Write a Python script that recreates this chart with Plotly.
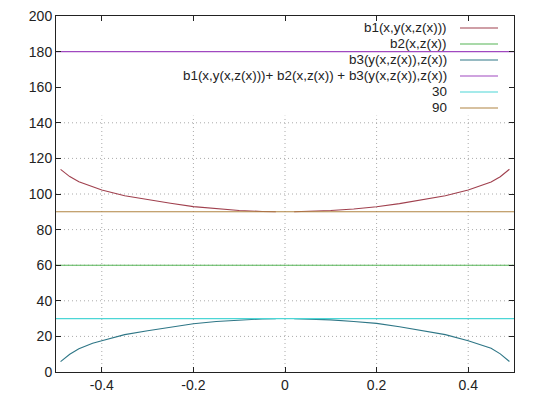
import plotly.graph_objects as go

# values
x_curve = [-0.49, -0.47, -0.45, -0.42, -0.4, -0.35, -0.3, -0.25, -0.2, -0.15, -0.1, -0.05, -0.02, 0,
           0.02, 0.05, 0.1, 0.15, 0.2, 0.25, 0.3, 0.35, 0.4, 0.42, 0.45, 0.47, 0.49]
b1 = [113.8, 109.8, 106.9, 103.9, 102.2, 99.0, 96.8, 94.8, 92.9, 91.6, 90.7, 90.2, 90.0, None,
      90.0, 90.2, 90.7, 91.6, 92.8, 94.6, 96.6, 99.0, 102.2, 103.9, 106.8, 109.7, 113.9]
b3 = [5.8, 10.0, 13.1, 16.1, 17.6, 21.0, 23.2, 25.3, 27.1, 28.4, 29.3, 29.8, 30.0, None,
      30.0, 29.8, 29.3, 28.4, 27.3, 25.4, 23.4, 21.0, 17.6, 16.0, 13.3, 10.2, 5.9]
x_line = [-0.5, 0.5]
b2 = [60, 60]
total = [180, 180]
c30 = [30, 30]
c90 = [90, 90]

names = ["b1(x,y(x,z(x)))", "b2(x,z(x))", "b3(y(x,z(x)),z(x))",
         "b1(x,y(x,z(x)))+ b2(x,z(x)) + b3(y(x,z(x)),z(x))", "30", "90"]
colors = ["#a0404e", "#55b455", "#2e7686", "#a048c0", "#4cd6d6", "#b08442"]
xs = [x_curve, x_line, x_curve, x_line, x_line, x_line]
ys = [b1, b2, b3, total, c30, c90]

xticks = [-0.4, -0.2, 0, 0.2, 0.4]
yticks = [0, 20, 40, 60, 80, 100, 120, 140, 160, 180, 200]

fig = go.Figure()
for i in range(6):
    fig.add_trace(go.Scatter(x=xs[i], y=ys[i], mode="lines", name=names[i],
                             line=dict(color=colors[i], width=1.1), showlegend=False))

# dotted grid (hidden behind the opaque key at the top)
grid = dict(color="#aaa", width=1, dash="1px,3px")
shapes = []
for xv in xticks:
    shapes.append(dict(type="line", xref="x", yref="y", x0=xv, x1=xv, y0=0, y1=144,
                       line=grid, layer="below"))
for yv in [20, 40, 60, 80, 100, 120, 140]:
    shapes.append(dict(type="line", xref="x", yref="y", x0=-0.5, x1=0.5, y0=yv, y1=yv,
                       line=grid, layer="below"))

# key: text right aligned, sample line on the right
# plot area in page pixels: x 56..514, y 16..372
def px(p):
    return (p - 56) / 458

def py(p):
    return (372 - p) / 356

annots = []
row_y = [28, 44, 60, 76, 92, 108]
for i in range(6):
    annots.append(dict(text=names[i], xref="paper", yref="paper", x=px(449), y=py(row_y[i]),
                       xanchor="right", yanchor="middle", showarrow=False,
                       font=dict(size=13.4, color="#222")))
    shapes.append(dict(type="line", xref="paper", yref="paper", x0=px(460), x1=px(498),
                       y0=py(row_y[i]), y1=py(row_y[i]), line=dict(color=colors[i], width=1.1)))

fig.update_layout(
    width=540, height=405,
    margin=dict(l=48, r=34, t=8, b=41, autoexpand=False),
    paper_bgcolor="white", plot_bgcolor="white",
    font=dict(family="Liberation Sans, Arial, sans-serif", size=13, color="#222"),
    shapes=shapes, annotations=annots,
)
fig.layout.xaxis.update(range=[-0.5, 0.5], tickvals=xticks, ticktext=["-0.4", "-0.2", "0", "0.2", "0.4"],
                        showgrid=False, zeroline=False, showline=True, linecolor="#222", linewidth=1,
                        mirror="ticks", ticks="inside", ticklen=5, tickcolor="#222",
                        tickfont=dict(size=14), ticklabeloverflow="allow", automargin=False)
fig.layout.yaxis.update(range=[0, 200], tickvals=yticks, showgrid=False, zeroline=False,
                        showline=True, linecolor="#222", linewidth=1, mirror="ticks",
                        ticks="inside", ticklen=5, tickcolor="#222", tickfont=dict(size=14),
                        ticklabeloverflow="allow", automargin=False)

fig.write_html("out.html")
